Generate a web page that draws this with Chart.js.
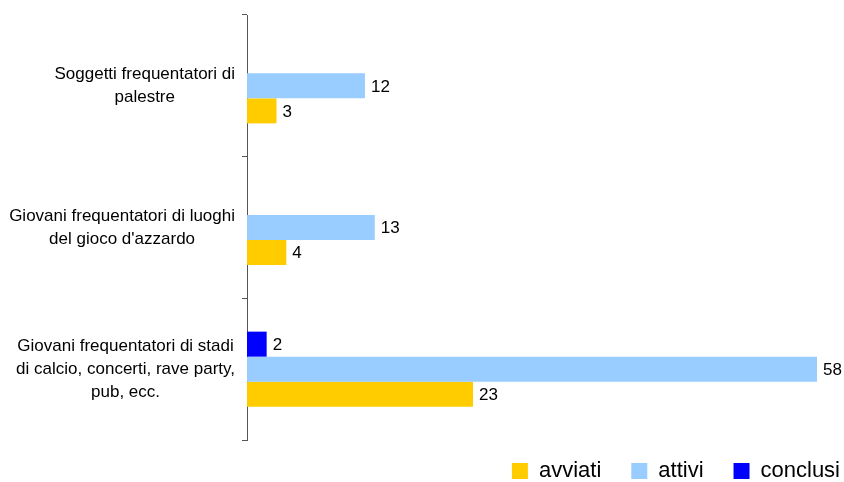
<!DOCTYPE html>
<html>
<head>
<meta charset="utf-8">
<script src="https://cdn.jsdelivr.net/npm/chart.js@4"></script>
<style>
  html, body { margin: 0; padding: 0; background: #fff; }
  #wrap { width: 844px; height: 482px; }
</style>
</head>
<body>
<div id="wrap"><canvas id="chart" width="844" height="482"></canvas></div>
<script>
// categories (one array of lines per label)
const categories = [
  ['Soggetti frequentatori di', 'palestre'],
  ['Giovani frequentatori di luoghi', "del gioco d'azzardo"],
  ['Giovani frequentatori di stadi', 'di calcio, concerti, rave party,', 'pub, ecc.']
];
const conclusi = [0, 0, 2];
const attivi = [12, 13, 58];
const avviati = [3, 4, 23];

const FONT = '"Liberation Sans", Arial, sans-serif';

// value labels at the end of each bar
const valueLabels = {
  id: 'valueLabels',
  afterDatasetsDraw(chart) {
    const ctx = chart.ctx;
    ctx.save();
    ctx.font = '17px ' + FONT;
    ctx.fillStyle = '#000';
    ctx.textBaseline = 'middle';
    ctx.textAlign = 'left';
    chart.data.datasets.forEach((ds, i) => {
      const meta = chart.getDatasetMeta(i);
      meta.data.forEach((bar, j) => {
        if (!ds.data[j]) return;
        ctx.fillText(ds.data[j], bar.x + 6, bar.y + 1);
      });
    });
    ctx.restore();
  }
};

// category labels: block right-aligned, lines centred inside the block
const catLabels = {
  id: 'catLabels',
  afterDraw(chart) {
    const ctx = chart.ctx;
    const y = chart.scales.y;
    const right = chart.chartArea.left - 12;
    const lh = 23;
    ctx.save();
    ctx.font = '17px ' + FONT;
    ctx.fillStyle = '#000';
    ctx.textBaseline = 'middle';
    ctx.textAlign = 'center';
    chart.data.labels.forEach((lines, i) => {
      const w = Math.max(...lines.map(l => ctx.measureText(l).width));
      const cx = right - w / 2;
      const cy = y.getPixelForValue(i);
      const top = cy - (lines.length - 1) * lh / 2;
      lines.forEach((l, k) => ctx.fillText(l, cx, top + k * lh));
    });
    ctx.restore();
  }
};

// nudge the legend box to where the original put it
const legendShift = {
  id: 'legendShift',
  afterLayout(chart) {
    const lg = chart.legend;
    lg.top -= 10; lg.bottom -= 10;
    lg.left += 53; lg.right += 53;
  }
};

new Chart(document.getElementById('chart'), {
  type: 'bar',
  data: {
    labels: categories,
    datasets: [
      { label: 'conclusi', data: conclusi, backgroundColor: '#0000FF' },
      { label: 'attivi', data: attivi, backgroundColor: '#99CCFF' },
      { label: 'avviati', data: avviati, backgroundColor: '#FFCC00' }
    ]
  },
  options: {
    indexAxis: 'y',
    responsive: false,
    animation: false,
    datasets: { bar: { categoryPercentage: 0.53, barPercentage: 1 } },
    layout: { padding: { left: 10, right: 27, top: 15, bottom: -20 } },
    scales: {
      x: { display: false, min: 0, max: 58 },
      y: {
        afterFit: (scale) => { scale.width = 237; },
        ticks: { display: false },
        grid: { offset: true, drawOnChartArea: false, tickLength: 5, color: '#555' },
        border: { color: '#555', width: 1 }
      }
    },
    plugins: {
      legend: {
        position: 'bottom',
        align: 'end',
        reverse: true,
        labels: {
          font: { family: FONT, size: 22 },
          color: '#000',
          boxWidth: 16,
          boxHeight: 16,
          padding: 30
        }
      },
      tooltip: { enabled: false }
    }
  },
  plugins: [valueLabels, catLabels, legendShift]
});
</script>
</body>
</html>
